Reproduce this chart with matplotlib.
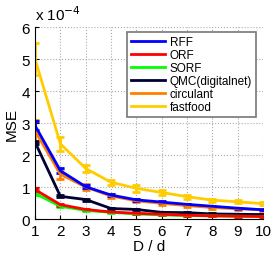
import numpy as np
import matplotlib
matplotlib.use('Agg')
import matplotlib.pyplot as plt

plt.rcParams['font.family'] = ['Liberation Sans', 'DejaVu Sans']

x = [1, 2, 3, 4, 5, 6, 7, 8, 9, 10]
# MSE values in units of 1e-4
rff = [2.92, 1.51, 1.01, 0.75, 0.60, 0.53, 0.46, 0.40, 0.34, 0.29]
orf = [0.92, 0.45, 0.30, 0.22, 0.18, 0.15, 0.12, 0.10, 0.09, 0.08]
sorf = [0.80, 0.40, 0.27, 0.21, 0.16, 0.13, 0.11, 0.10, 0.09, 0.08]
qmc = [2.40, 0.71, 0.61, 0.33, 0.30, 0.21, 0.20, 0.16, 0.15, 0.14]
circulant = [2.75, 1.40, 1.00, 0.72, 0.57, 0.49, 0.42, 0.36, 0.32, 0.29]
fastfood = [5.00, 2.35, 1.58, 1.15, 0.96, 0.83, 0.70, 0.59, 0.54, 0.48]

rff_err = [0.15, 0.08, 0.05, 0.03, 0.03, 0.02, 0.02, 0.02, 0.02, 0.01]
orf_err = [0.05, 0.03, 0.02, 0.01, 0.01, 0.01, 0.01, 0.01, 0.01, 0.01]
sorf_err = [0.05, 0.03, 0.02, 0.01, 0.01, 0.01, 0.01, 0.01, 0.01, 0.01]
qmc_err = [0.05, 0.03, 0.03, 0.03, 0.02, 0.02, 0.02, 0.02, 0.02, 0.02]
circulant_err = [0.35, 0.15, 0.10, 0.07, 0.05, 0.04, 0.04, 0.03, 0.03, 0.03]
fastfood_err = [0.50, 0.22, 0.10, 0.08, 0.10, 0.08, 0.06, 0.05, 0.05, 0.04]

names = ['RFF', 'ORF', 'SORF', 'QMC(digitalnet)', 'circulant', 'fastfood']
series = [rff, orf, sorf, qmc, circulant, fastfood]
errors = [rff_err, orf_err, sorf_err, qmc_err, circulant_err, fastfood_err]
colors = ['#0000ff', '#ff0000', '#00ff00', '#000033', '#ff8000', '#ffcc00']

fig = plt.figure(figsize=(2.74, 2.55), dpi=100)
ax = fig.add_axes([0.128, 0.137, 0.832, 0.753])

# draw in reverse so RFF sits on top like in the original
handles = {}
for name, y, e, c in reversed(list(zip(names, series, errors, colors))):
    h = ax.errorbar(x, y, yerr=e, color=c, linewidth=2, elinewidth=2,
                    capsize=3, capthick=2)
    handles[name] = h

ax.set_xlim(1, 10)
ax.set_ylim(0, 6)
ax.set_xticks(range(1, 11))
ax.set_yticks(range(0, 7))
ax.tick_params(labelsize=11, direction='in', length=3)
ax.grid(True, linestyle=':', color='#aaaaaa', linewidth=0.8)
ax.set_xlabel('D / d', fontsize=11, labelpad=1)
ax.set_ylabel('MSE', fontsize=11, labelpad=2)
for s in ['top', 'right']:
    ax.spines[s].set_visible(False)

ax.text(0.0, 1.02, r'x 10$^{-4}$', transform=ax.transAxes, fontsize=11,
        ha='left', va='bottom')

leg = ax.legend([handles[n][0] for n in names], names, loc='upper right',
                bbox_to_anchor=(0.97, 0.975), fontsize=8.5, handlelength=2.9,
                labelspacing=0.08, borderpad=0.35, fancybox=False,
                framealpha=1, handletextpad=0.4, borderaxespad=0)
leg.get_frame().set_edgecolor('#777777')
leg.get_frame().set_linewidth(1.2)

fig.savefig('out.png', dpi=100)
